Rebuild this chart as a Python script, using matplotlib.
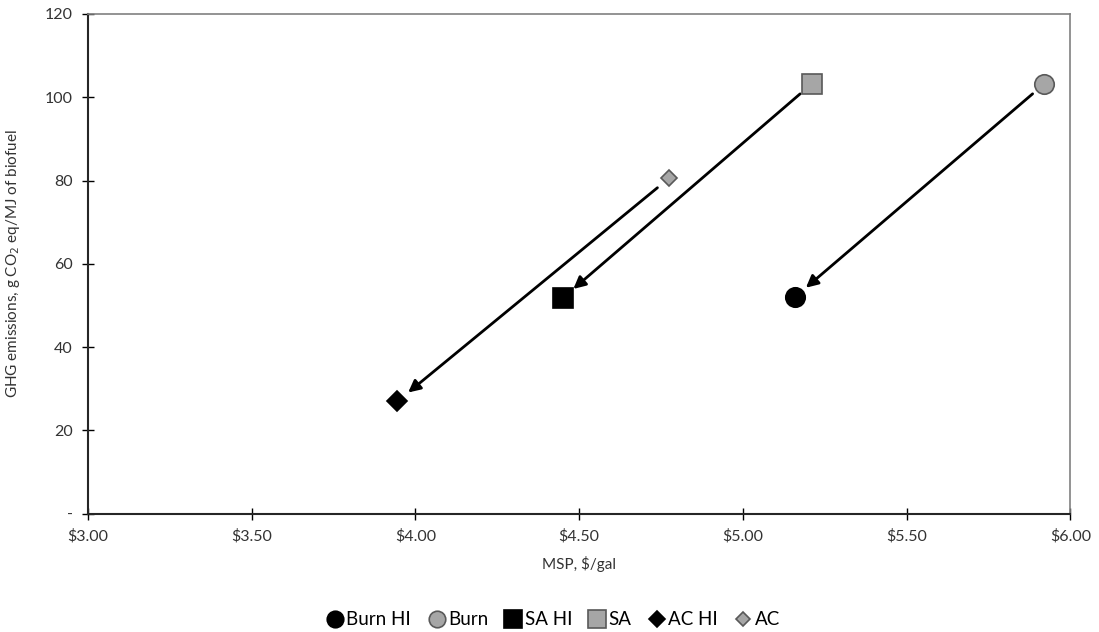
import matplotlib.pyplot as plt

plt.rcParams['font.family'] = ['Lato', 'DejaVu Sans']

# MSP ($/gal) and GHG emissions (g CO2 eq/MJ) per scenario
labels = ['Burn HI', 'Burn', 'SA HI', 'SA', 'AC HI', 'AC']
msp = [5.16, 5.92, 4.45, 5.21, 3.945, 4.775]
ghg = [52.1, 103.2, 51.8, 103.2, 27.0, 80.6]
markers = ['o', 'o', 's', 's', 'D', 'D']
sizes = [14, 14, 15, 15, 10, 8.5]
fills = ['black', '#a6a6a6', 'black', '#a6a6a6', 'black', '#a6a6a6']
edges = ['black', '#595959', 'black', '#595959', 'black', '#595959']

# arrows go from each base case to its HI case
arrows = [(1, 0), (3, 2), (5, 4)]

fig = plt.figure(figsize=(10.99, 6.32), dpi=100)
ax = fig.add_axes([0.080, 0.187, 0.894, 0.791])

for i0, i1 in arrows:
    ax.annotate('', xy=(msp[i1], ghg[i1]), xytext=(msp[i0], ghg[i0]),
                arrowprops=dict(arrowstyle='-|>', color='black', lw=2,
                                mutation_scale=18, shrinkA=11, shrinkB=10))

for i in range(len(labels)):
    ax.plot(msp[i], ghg[i], linestyle='none', marker=markers[i],
            markersize=sizes[i], markerfacecolor=fills[i],
            markeredgecolor=edges[i], markeredgewidth=1.2, label=labels[i],
            zorder=3)

ax.set_xlim(3, 6)
ax.set_ylim(0, 120)
ax.set_xticks([3, 3.5, 4, 4.5, 5, 5.5, 6])
ax.set_xticklabels(['$%.2f' % v for v in [3, 3.5, 4, 4.5, 5, 5.5, 6]])
ax.set_yticks([0, 20, 40, 60, 80, 100, 120])
ax.set_yticklabels(['-', '20', '40', '60', '80', '100', '120'])
ax.tick_params(direction='inout', length=8, width=1, labelsize=11.5,
               colors='black', labelcolor='#333333', pad=7)

for side in ['left', 'bottom']:
    ax.spines[side].set_color('#262626')
    ax.spines[side].set_linewidth(1.5)
for side in ['top', 'right']:
    ax.spines[side].set_color('#808080')
    ax.spines[side].set_linewidth(1.2)

ax.set_xlabel('MSP, \\$/gal', fontsize=11, color='#333333', labelpad=9)
ax.set_ylabel('GHG emissions, g CO$_2$ eq/MJ of biofuel', fontsize=11,
              color='#333333', labelpad=16)

handles, names = ax.get_legend_handles_labels()
fig.legend(handles, names, loc='upper center', bbox_to_anchor=(0.503, 0.033),
           ncol=6, frameon=False, fontsize=13.5, handletextpad=0.1,
           columnspacing=0.85, handlelength=1.0, markerscale=0.85,
           borderaxespad=0, borderpad=0)

fig.savefig('out.png', dpi=100)
